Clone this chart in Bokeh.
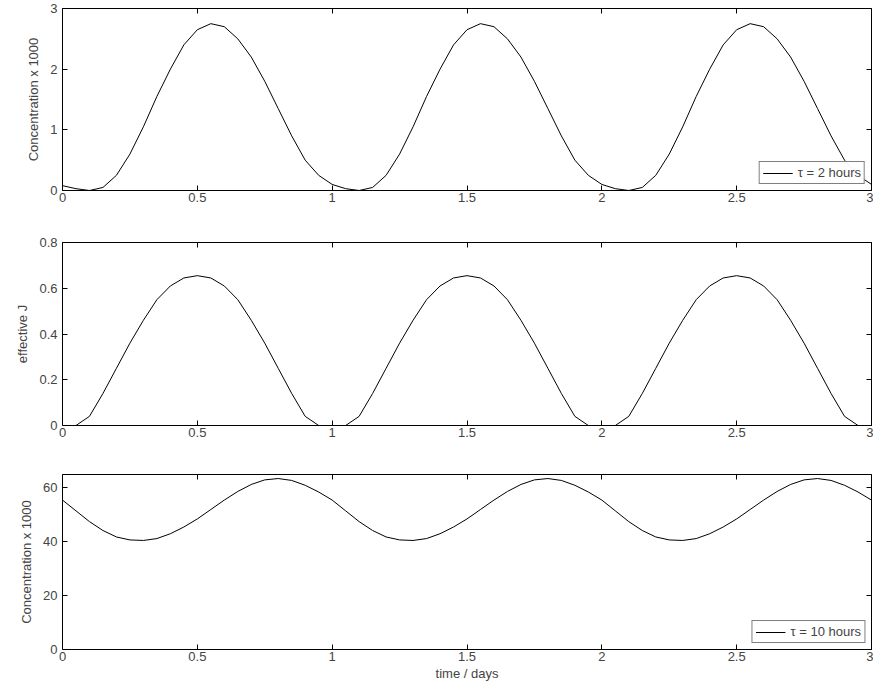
from bokeh.plotting import figure
from bokeh.layouts import column
from bokeh.models import LinearAxis, FixedTicker
from bokeh.embed import file_html
from bokeh.resources import INLINE

# sampled every 0.05 days, 0 .. 3
t = [round(i * 0.05, 2) for i in range(61)]

conc_2h = [0.08, 0.03, 0.0, 0.05, 0.25, 0.6, 1.05, 1.55, 2.0, 2.4, 2.65, 2.75, 2.7, 2.5, 2.2, 1.8, 1.35, 0.9, 0.5, 0.25,
           0.1, 0.03, 0.0, 0.05, 0.25, 0.6, 1.05, 1.55, 2.0, 2.4, 2.65, 2.75, 2.7, 2.5, 2.2, 1.8, 1.35, 0.9, 0.5, 0.25,
           0.1, 0.03, 0.0, 0.05, 0.25, 0.6, 1.05, 1.55, 2.0, 2.4, 2.65, 2.75, 2.7, 2.5, 2.2, 1.8, 1.35, 0.9, 0.5, 0.25, 0.1]

eff_j = [0.0, 0.0, 0.04, 0.14, 0.25, 0.36, 0.46, 0.55, 0.61, 0.645, 0.655, 0.645, 0.61, 0.55, 0.46, 0.36, 0.25, 0.14, 0.04, 0.0,
         0.0, 0.0, 0.04, 0.14, 0.25, 0.36, 0.46, 0.55, 0.61, 0.645, 0.655, 0.645, 0.61, 0.55, 0.46, 0.36, 0.25, 0.14, 0.04, 0.0,
         0.0, 0.0, 0.04, 0.14, 0.25, 0.36, 0.46, 0.55, 0.61, 0.645, 0.655, 0.645, 0.61, 0.55, 0.46, 0.36, 0.25, 0.14, 0.04, 0.0, 0.0]

conc_10h = [55.5, 51.5, 47.5, 44.2, 41.8, 40.7, 40.5, 41.2, 43.0, 45.5, 48.5, 52.0, 55.5, 58.7, 61.3, 63.0, 63.5, 62.8, 61.0, 58.5,
            55.5, 51.5, 47.5, 44.2, 41.8, 40.7, 40.5, 41.2, 43.0, 45.5, 48.5, 52.0, 55.5, 58.7, 61.3, 63.0, 63.5, 62.8, 61.0, 58.5,
            55.5, 51.5, 47.5, 44.2, 41.8, 40.7, 40.5, 41.2, 43.0, 45.5, 48.5, 52.0, 55.5, 58.7, 61.3, 63.0, 63.5, 62.8, 61.0, 58.5, 55.5]

x_ticks = [0, 0.5, 1, 1.5, 2, 2.5, 3]
FONT = "Liberation Sans"


def panel(y, yr, yticks, ylabel, legend, height, top, bottom, xlabel=None):
    p = figure(width=873, height=height, x_range=(0, 3), y_range=yr,
               output_backend="svg", toolbar_location=None,
               min_border_left=62, min_border_right=2,
               min_border_top=top, min_border_bottom=bottom)
    p.grid.visible = False
    p.outline_line_color = "black"
    p.background_fill_color = "white"
    p.line(t, y, color="black", line_width=1, legend_label=legend if legend else "_")
    for ax in p.xaxis + p.yaxis:
        ax.major_tick_in = 5
        ax.major_tick_out = 0
        ax.minor_tick_line_color = None
        ax.axis_line_color = None
        ax.major_label_text_font = FONT
        ax.major_label_text_font_size = "13px"
        ax.axis_label_text_font = FONT
        ax.axis_label_text_font_size = "13px"
        ax.axis_label_text_font_style = "normal"
    p.xaxis.ticker = FixedTicker(ticks=x_ticks)
    p.xaxis.major_label_overrides = {0: "0", 0.5: "0.5", 1: "1", 1.5: "1.5", 2: "2", 2.5: "2.5", 3: "3"}
    p.xaxis.major_label_standoff = 2
    p.yaxis.ticker = FixedTicker(ticks=yticks)
    p.yaxis.axis_label = ylabel
    p.yaxis.axis_label_standoff = 6
    if xlabel:
        p.xaxis.axis_label = xlabel
        p.xaxis.axis_label_standoff = 2
    for loc, tk in (("above", x_ticks), ("right", yticks)):
        a = LinearAxis(ticker=FixedTicker(ticks=tk), major_tick_in=5, major_tick_out=0,
                       minor_tick_line_color=None, axis_line_color=None,
                       major_label_text_color=None, major_label_text_font_size="1px")
        p.add_layout(a, loc)
    if legend:
        p.legend.location = "bottom_right"
        p.legend.label_text_font = FONT
        p.legend.label_text_font_size = "13px"
        p.legend.border_line_color = "black"
        p.legend.margin = 6
        p.legend.padding = 3
        p.legend.glyph_width = 30
        p.legend.label_height = 14
        p.legend.glyph_height = 14
    else:
        p.legend.visible = False
    return p


p1 = panel(conc_2h, (0, 3), [0, 1, 2, 3], "Concentration x 1000", "τ = 2 hours", 225, 8, 35)
p2 = panel(eff_j, (0, 0.8), [0, 0.2, 0.4, 0.6, 0.8], "effective J", None, 232, 17, 32)
p3 = panel(conc_10h, (0, 65), [0, 20, 40, 60], "Concentration x 1000", "τ = 10 hours", 236, 17, 44,
           xlabel="time / days")

p = column(p1, p2, p3, spacing=0)
open("out.html", "w").write(file_html(p, INLINE))
